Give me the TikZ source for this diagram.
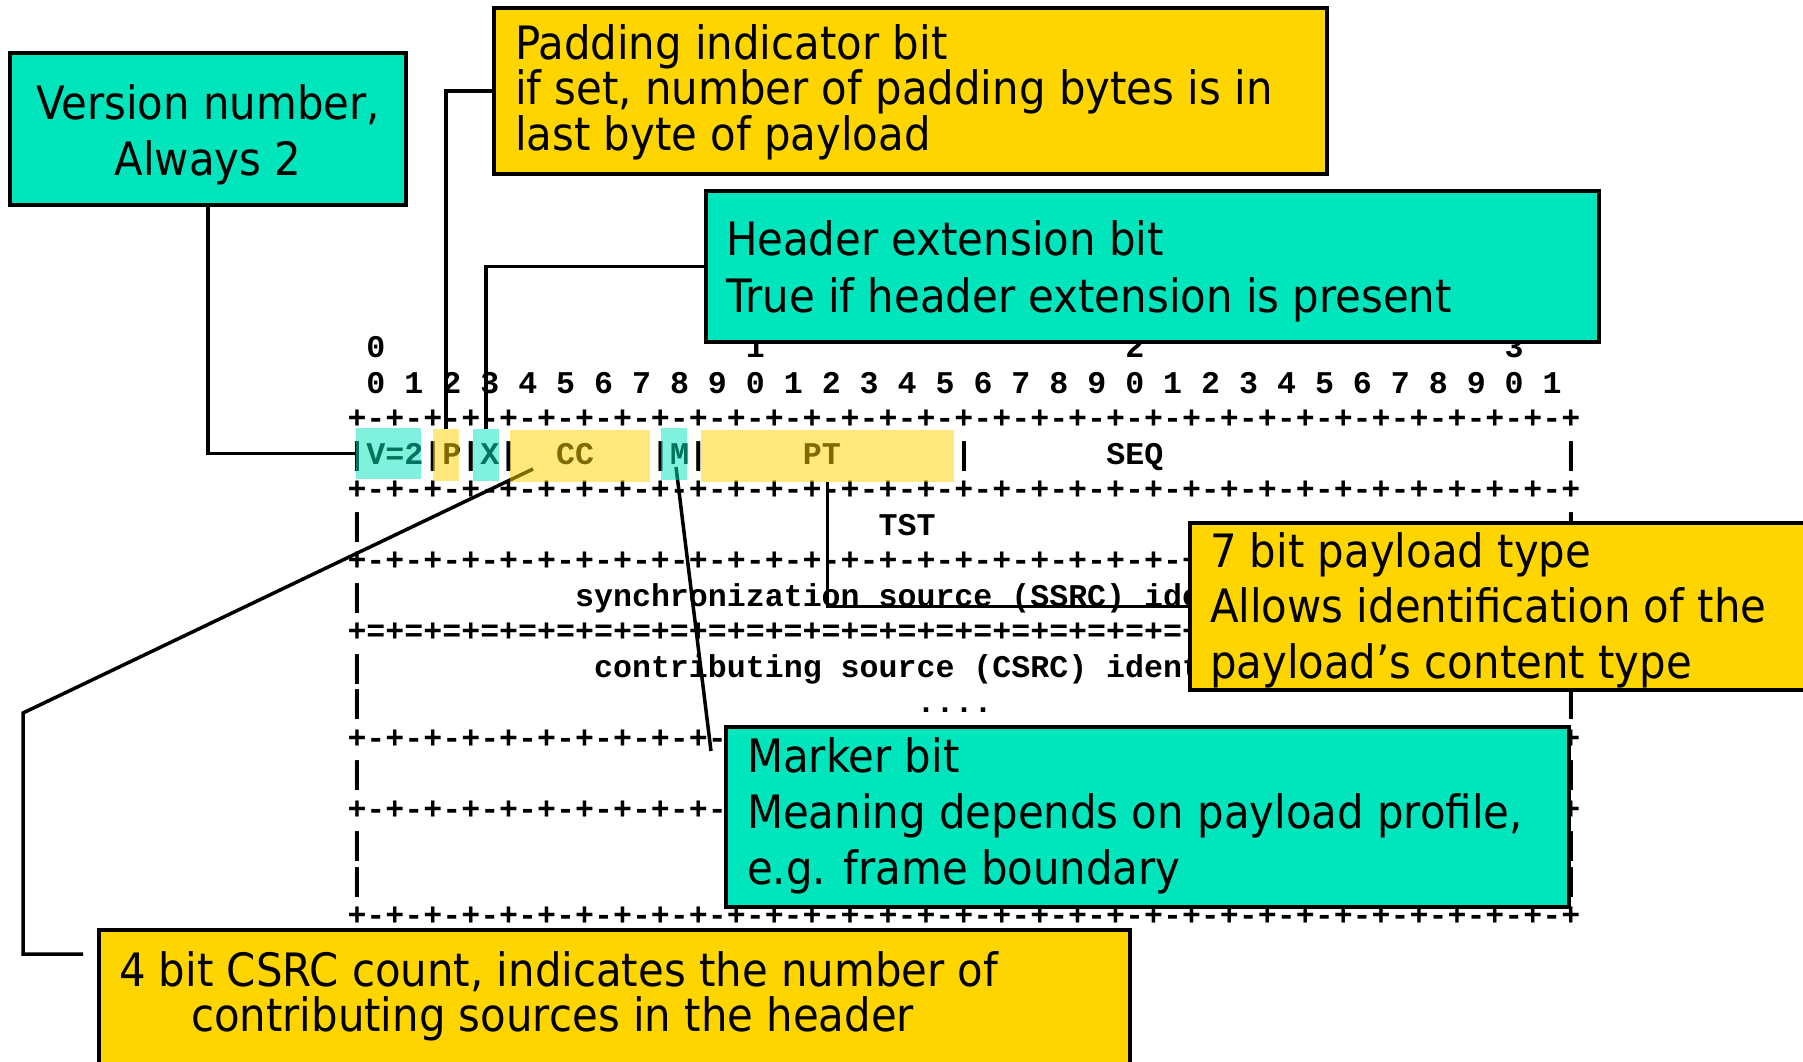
\documentclass[tikz,border=0pt]{standalone}
\usepackage{fontspec}
\setmonofont{Liberation Mono}
\newfontfamily\boxfont[FakeStretch=0.91]{DejaVu Sans}
\definecolor{tealc}{RGB}{0,229,187}
\definecolor{goldc}{RGB}{255,213,0}
\pgfdeclarelayer{asciil}
\pgfdeclarelayer{connl}
\pgfdeclarelayer{hll}
\pgfsetlayers{asciil,connl,hll,main}
\newcommand\ascnode[4]{\node[asc] (#1) at ({357+(#2-0.5)*18.97},{384+(#3)*35.53+9}) {#4};}
\newcommand\plusrow[2]{\ascnode{#1}{0}{#2}{+-+-+-+-+-+-+-+-+-+-+-+-+-+-+-+-+-+-+-+-+-+-+-+-+-+-+-+-+-+-+-+-+}}
\newcommand\barrow[2]{\ascnode{#1a}{0}{#2}{|}\ascnode{#1b}{64}{#2}{|}}
\begin{document}
\begin{tikzpicture}[x=1pt,y=-1pt,
  asc/.style={font={\fontsize{31.61}{34}\selectfont\ttfamily\bfseries}, inner sep=0, outer sep=0, anchor=base west},
  box/.style={draw=black, line width=3.5pt, inner sep=0, outer sep=0, anchor=north west},
  tealbox/.style={box, fill=tealc},
  goldbox/.style={box, fill=goldc},
  hlbox/.style={inner sep=0, outer sep=0, anchor=north west, fill opacity=0.5},
  bt/.style={font={\fontsize{46}{50}\selectfont\boxfont}, inner sep=0, outer sep=0, anchor=base west},
  btc/.style={bt, anchor=base},
  conn/.style={draw=black, line width=3.5pt}
]
\useasboundingbox (0,0) rectangle (1803,1061);
\begin{pgfonlayer}{asciil}
\fill[white] (0,0) rectangle (1803,1061);
% column group labels
\ascnode{lb0}{1}{-1}{0}
\ascnode{lb1}{21}{-1}{1}
\ascnode{lb2}{41}{-1}{2}
\ascnode{lb3}{61}{-1}{3}
% bit numbers
\foreach \i in {0,...,31}{
  \pgfmathtruncatemacro\dd{mod(\i,10)}
  \ascnode{dg\i}{2*\i+1}{0}{\dd}
}
\plusrow{r1}{1}
\ascnode{f1}{0}{2}{|V=2|P|X|}
\ascnode{f2}{11}{2}{CC}
\ascnode{f3}{16}{2}{|M|}
\ascnode{f4}{24}{2}{PT}
\ascnode{f5}{32}{2}{|}
\ascnode{f6}{40}{2}{SEQ}
\ascnode{f7}{64}{2}{|}
\plusrow{r3}{3}
\barrow{r4}{4}
\ascnode{tst}{28}{4}{TST}
\plusrow{r5}{5}
\barrow{r6}{6}
\ascnode{ssrc}{12}{6}{synchronization source (SSRC) identifier}
\ascnode{r7}{0}{7}{+=+=+=+=+=+=+=+=+=+=+=+=+=+=+=+=+=+=+=+=+=+=+=+=+=+=+=+=+=+=+=+=+}
\barrow{r8}{8}
\ascnode{csrc}{13}{8}{contributing source (CSRC) identifiers}
\barrow{r9}{9}
\ascnode{dots}{30}{9}{....}
\plusrow{r10}{10}
\barrow{r11}{11}
\plusrow{r12}{12}
\barrow{r13}{13}
\barrow{r14}{14}
\plusrow{r15}{15}
\end{pgfonlayer}

% highlights
\begin{pgfonlayer}{hll}
\node[hlbox, fill=tealc, minimum width=65, minimum height=51] (hlV) at (356,428) {};
\node[hlbox, fill=goldc, minimum width=26, minimum height=52] (hlP) at (433,429) {};
\node[hlbox, fill=tealc, minimum width=26, minimum height=52] (hlX) at (473,429) {};
\node[hlbox, fill=goldc, minimum width=140, minimum height=52] (hlCC) at (510,430) {};
\node[hlbox, fill=tealc, minimum width=26, minimum height=52] (hlM) at (661,428) {};
\node[hlbox, fill=goldc, minimum width=253, minimum height=52] (hlPT) at (701,430) {};
\end{pgfonlayer}

% callout boxes
\node[tealbox, minimum width=396, minimum height=152] (ver) at (10,53) {};
\node[btc] (vert1) at (208,119) {Version number,};
\node[btc] (vert2) at (208,175) {Always 2};

\node[goldbox, minimum width=833, minimum height=166] (pad) at (494,8) {};
\node[bt] (padt1) at (515,59) {Padding indicator bit};
\node[bt] (padt2) at (515,104) {if set, number of padding bytes is in};
\node[bt] (padt3) at (515,150) {last byte of payload};

\node[tealbox, minimum width=893, minimum height=151] (hdr) at (706,191) {};
\node[bt] (hdrt1) at (726,255) {Header extension bit};
\node[bt] (hdrt2) at (726,312) {True if header extension is present};

\node[goldbox, minimum width=700, minimum height=167] (pl) at (1190,523) {};
\node[bt] (plt1) at (1210,567) {7 bit payload type};
\node[bt] (plt2) at (1210,622) {Allows identification of the};
\node[bt] (plt3) at (1210,678) {payload’s content type};

\node[tealbox, minimum width=843, minimum height=180] (mk) at (726,727) {};
\node[bt] (mkt1) at (747,772) {Marker bit};
\node[bt] (mkt2) at (747,828) {Meaning depends on payload profile,};
\node[bt] (mkt3) at (747,884) {e.g. frame boundary};

\node[goldbox, minimum width=1031, minimum height=180] (cc4) at (99,930) {};
\node[bt] (cct1) at (119,986) {4 bit CSRC count, indicates the number of};
\node[bt] (cct2) at (191,1031) {contributing sources in the header};

% connectors
\coordinate (mA) at (676,467);
\coordinate (mB) at (711,751);
\coordinate (ccA) at (533,469);
\coordinate (ccB) at (23,713);
\coordinate (ccC) at (83,954);
\begin{pgfonlayer}{connl}
\draw[conn] (ver.south) |- (hlV.west);
\draw[conn] (pad.west) -| (hlP.north);
\draw[conn] (hdr.west) -| (hlX.north);
\draw[conn] (hlPT.south) |- (pl.west);
\draw[conn] (mA) -- (mB);
\draw[conn] (ccA) -- (ccB) |- (ccC);
\end{pgfonlayer}
\end{tikzpicture}
\end{document}
